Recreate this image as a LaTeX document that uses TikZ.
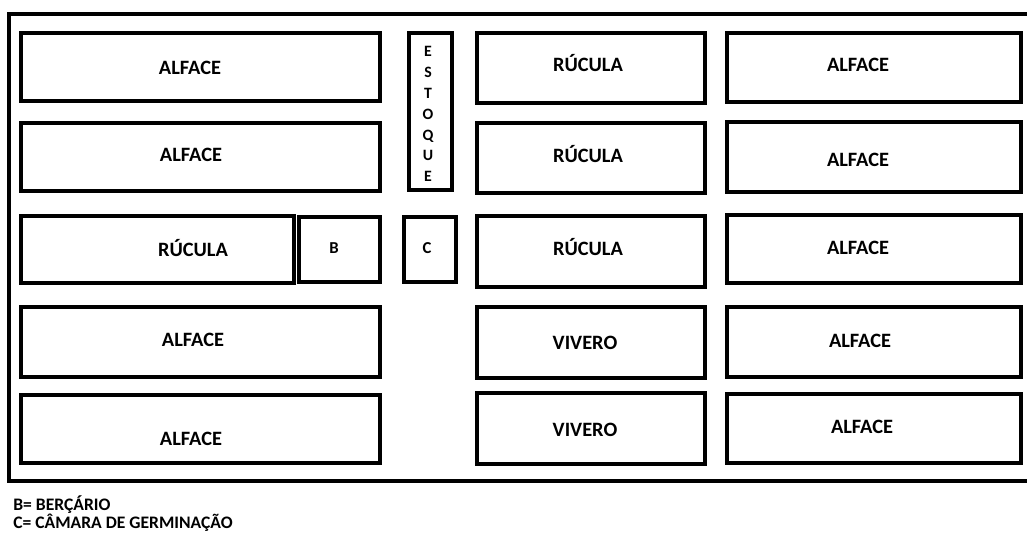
\documentclass[tikz,border=0pt]{standalone}
\usepackage{fontspec}
\setmainfont{Carlito}
\usetikzlibrary{fit, positioning}

\begin{document}
\begin{tikzpicture}[
  x=0.02cm, y=-0.02cm,
  bed/.style={draw, line width=2pt, inner sep=0pt},
  tag/.style={font=\bfseries\fontsize{11.6}{13}\selectfont, inner sep=0pt, text height=7.5pt, text depth=0pt},
  note/.style={font=\bfseries\fontsize{10}{12}\selectfont, inner sep=0pt, anchor=west}
]
  \useasboundingbox (0,0) rectangle (1027,538);

  % frame (open on the right)
  \draw[line width=2pt] (1027,14) -- (9,14) -- (9,481) -- (1027,481);

  % left column
  \node[bed, fit={(21,33) (380,101)}] (la1) {};
  \node[tag] (tla1) at (190,68) {ALFACE};
  \node[bed, fit={(21,123) (380,191)}] (la2) {};
  \node[tag] (tla2) at (191,155) {ALFACE};
  \node[bed, fit={(21,216) (294,283)}] (lr3) {};
  \node[tag] (tlr3) at (193,250) {RÚCULA};
  \node[bed, fit={(299,217) (380,282)}] (berc) {};
  \node[tag, font=\bfseries\fontsize{9.5}{11}\selectfont] (tberc) at (334,247) {B};
  \node[bed, fit={(21,307) (380,377)}] (la4) {};
  \node[tag] (tla4) at (193,340) {ALFACE};
  \node[bed, fit={(21,395) (380,463)}] (la5) {};
  \node[tag] (tla5) at (191,439) {ALFACE};

  % estoque and camara
  \node[bed, fit={(409,33) (452,190)}] (est) {};
  \node[font=\bfseries\fontsize{9}{11.9}\selectfont, align=center, inner sep=0pt] (test) at (428,114)
    {E\\S\\T\\O\\Q\\U\\E};
  \node[bed, fit={(404,217) (456,282)}] (cam) {};
  \node[tag, font=\bfseries\fontsize{9.5}{11}\selectfont] (tcam) at (427,247) {C};

  % middle column
  \node[bed, fit={(477,33) (705,103)}] (mr1) {};
  \node[tag] (tmr1) at (588,65) {RÚCULA};
  \node[bed, fit={(477,123) (705,193)}] (mr2) {};
  \node[tag] (tmr2) at (588,156) {RÚCULA};
  \node[bed, fit={(477,216) (705,287)}] (mr3) {};
  \node[tag] (tmr3) at (588,249) {RÚCULA};
  \node[bed, fit={(477,307) (705,378)}] (mv4) {};
  \node[tag] (tmv4) at (585,343) {VIVERO};
  \node[bed, fit={(477,393) (705,464)}] (mv5) {};
  \node[tag] (tmv5) at (585,430) {VIVERO};

  % right column
  \node[bed, fit={(727,33) (1021,102)}] (ra1) {};
  \node[tag] (tra1) at (858,65) {ALFACE};
  \node[bed, fit={(727,122) (1021,192)}] (ra2) {};
  \node[tag] (tra2) at (858,160) {ALFACE};
  \node[bed, fit={(727,215) (1021,283)}] (ra3) {};
  \node[tag] (tra3) at (858,248) {ALFACE};
  \node[bed, fit={(727,307) (1021,377)}] (ra4) {};
  \node[tag] (tra4) at (860,341) {ALFACE};
  \node[bed, fit={(727,394) (1021,463)}] (ra5) {};
  \node[tag] (tra5) at (862,427) {ALFACE};

  % legend
  \node[note] (legb) at (13,505) {B= BERÇÁRIO};
  \node[note] (legc) at (13,523) {C= CÂMARA DE GERMINAÇÃO};
\end{tikzpicture}
\end{document}
